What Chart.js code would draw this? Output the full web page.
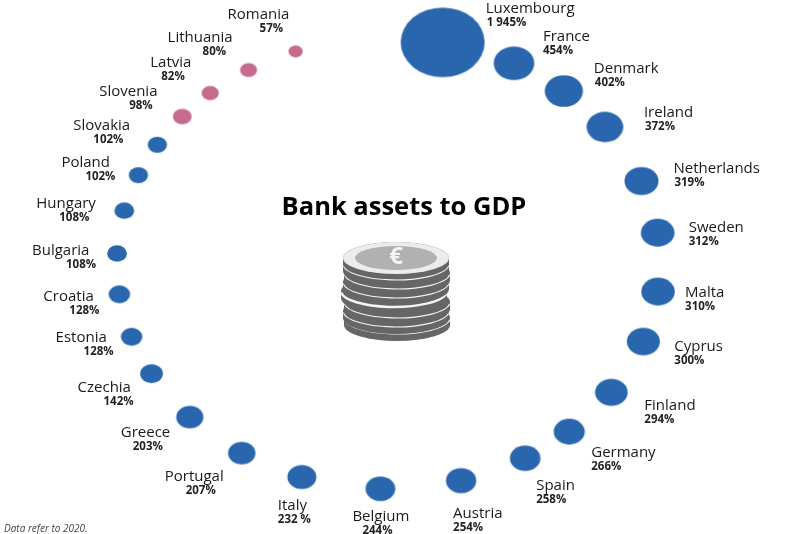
<!DOCTYPE html>
<html lang="en">
<head>
  <meta charset="UTF-8" />
  <title>Bank assets to GDP</title>
  <script src="https://cdn.jsdelivr.net/npm/chart.js"></script>
  <style>
    html, body { margin: 0; background: #fff; }
    canvas { display: block; }
  </style>
</head>
<body>
  <canvas id="ringChart" width="800" height="534"></canvas>

  <script>
    // Data, clockwise from the top of the ring
    const countries = ['Luxembourg', 'France', 'Denmark', 'Ireland', 'Netherlands', 'Sweden', 'Malta', 'Cyprus', 'Finland', 'Germany', 'Spain', 'Austria', 'Belgium', 'Italy', 'Portugal', 'Greece', 'Czechia', 'Estonia', 'Croatia', 'Bulgaria', 'Hungary', 'Poland', 'Slovakia', 'Slovenia', 'Latvia', 'Lithuania', 'Romania'];
    const assetsToGdp = [1945, 454, 402, 372, 319, 312, 310, 300, 294, 266, 258, 254, 244, 232, 207, 203, 142, 128, 128, 108, 108, 102, 102, 98, 82, 80, 57];
    const valueLabels = ['1 945%', '454%', '402%', '372%', '319%', '312%', '310%', '300%', '294%', '266%', '258%', '254%', '244%', '232 %', '207%', '203%', '142%', '128%', '128%', '108%', '108%', '102%', '102%', '98%', '82%', '80%', '57%'];
    // Angle on the ring in degrees (0 = top)
    const ringAngles = [11.5, 27.5, 40.2, 52.8, 68.6, 82.2, 97.2, 110.3, 124.9, 138.3, 149.8, 164.5, 181.7, 198.6, 212.7, 227, 240.7, 251, 262.1, 272.5, 283.5, 293, 301.7, 310.6, 319, 329, 340];
    const pinkCountries = ['Slovenia', 'Latvia', 'Lithuania', 'Romania'];

    const titleText = 'Bank assets to GDP';
    const noteText = 'Data refer to 2020.';

    const BLUE = '#2a66ae';
    const PINK = '#c76b8e';
    const LABEL_FONT = '"Open Sans", sans-serif';

    // Label offsets from the bubble centre: name x, value x, name y
    const labelOffsets = [
      [43, 44, -34], [29, 29, -27], [30, 31, -22], [39, 40, -14], [32, 33, -12], [31, 31, -5], [27, 27, 1],
      [31, 31, 5], [33, 33, 13], [22, 22, 21], [11, 11, 28], [-8, -8, 33], [-28, -18, 28], [-24, -24, 29],
      [-77, -56, 24], [-69, -57, 16], [-74, -48, 14], [-76, -48, 1], [-76, -50, 2], [-85, -51, -3], [-88, -65, -7],
      [-77, -53, -12], [-84, -64, -19], [-83, -53, -25], [-60, -49, -30], [-81, -46, -32], [-68, -36, -37]
    ];

    // The source bubbles are a bit wider than tall, so each one is its own little canvas
    function ovalStyle(value, colour) {
      const rx = 0.952 * Math.sqrt(value);
      const ry = rx * 0.83;
      const c = document.createElement('canvas');
      c.width = Math.ceil(rx * 2) + 2;
      c.height = Math.ceil(ry * 2) + 2;
      const g = c.getContext('2d');
      g.fillStyle = colour;
      g.beginPath();
      g.ellipse(c.width / 2, c.height / 2, rx, ry, 0, 0, Math.PI * 2);
      g.fill();
      return c;
    }

    function coin(ctx, x, y, thick, arcWidth) {
      ctx.fillStyle = '#666';
      ctx.beginPath();
      ctx.ellipse(x, y + thick, 53, 16, 0, 0, Math.PI);
      ctx.lineTo(x - 53, y);
      ctx.ellipse(x, y, 53, 16, 0, Math.PI, 0);
      ctx.closePath();
      ctx.fill();
      if (arcWidth) {
        ctx.strokeStyle = '#f4f4f4';
        ctx.lineWidth = arcWidth;
        ctx.beginPath();
        ctx.ellipse(x, y, 53, 16, 0, 0.1, Math.PI - 0.1);
        ctx.stroke();
      }
    }

    // Title, coin stack, note and country labels
    const decorations = {
      id: 'decorations',
      afterDatasetsDraw(chart) {
        const ctx = chart.ctx;
        const meta = chart.getDatasetMeta(0);
        ctx.save();
        ctx.textBaseline = 'middle';
        ctx.textAlign = 'left';

        countries.forEach((name, i) => {
          const pt = meta.data[i];
          const [nameDx, valueDx, nameDy] = labelOffsets[i];
          ctx.fillStyle = '#1a1a1a';
          ctx.font = '15px ' + LABEL_FONT;
          ctx.fillText(name, pt.x + nameDx, pt.y + nameDy);
          ctx.fillStyle = '#222';
          ctx.font = 'bold 11.5px ' + LABEL_FONT;
          ctx.fillText(valueLabels[i], pt.x + valueDx, pt.y + nameDy + 14);
        });

        ctx.textAlign = 'center';
        ctx.fillStyle = '#000';
        ctx.font = 'bold 25.5px "Open Sans", sans-serif';
        ctx.fillText(titleText, 404, 208);

        ctx.textAlign = 'left';
        ctx.fillStyle = '#444';
        ctx.font = 'italic 10px ' + LABEL_FONT;
        ctx.fillText(noteText, 4, 529);

        // coin stack, bottom to top
        [[397, 318, 1.1], [396, 311, 1.1], [397, 302, 1.1], [394, 291, 2.5], [396, 282, 1.1], [397, 273, 1.1], [396, 264, 1.1]].forEach(c => coin(ctx, c[0], c[1], 7, c[2]));
        coin(ctx, 396, 258, 5);
        ctx.fillStyle = '#ececec';
        ctx.beginPath();
        ctx.ellipse(396, 258, 53, 16, 0, 0, Math.PI * 2);
        ctx.fill();
        ctx.fillStyle = '#b1b1b1';
        ctx.beginPath();
        ctx.ellipse(396, 258, 41, 12, 0, 0, Math.PI * 2);
        ctx.fill();
        ctx.textAlign = 'center';
        ctx.fillStyle = '#f4f4f4';
        ctx.font = 'bold 24px "Open Sans", sans-serif';
        ctx.fillText('€', 396, 257);
        ctx.restore();
      }
    };

    new Chart(document.getElementById('ringChart'), {
      type: 'bubble',
      data: {
        labels: countries,
        datasets: [{
          data: countries.map((name, i) => ({
            x: Math.sin(ringAngles[i] * Math.PI / 180),
            y: Math.cos(ringAngles[i] * Math.PI / 180),
            r: 0.952 * Math.sqrt(assetsToGdp[i])
          })),
          pointStyle: ctx => ovalStyle(assetsToGdp[ctx.dataIndex], pinkCountries.includes(countries[ctx.dataIndex]) ? PINK : BLUE),
          borderWidth: 0,
          clip: false
        }]
      },
      options: {
        responsive: false,
        animation: false,
        layout: { padding: 0 },
        plugins: { legend: { display: false }, tooltip: { enabled: false } },
        // ring is a unit circle, these limits stretch it to an ellipse on the page
        scales: {
          x: { display: false, min: -1.2753, max: 1.36 },
          y: { display: false, min: -1.0142, max: 0.9814 }
        }
      },
      plugins: [decorations]
    });
  </script>
</body>
</html>
